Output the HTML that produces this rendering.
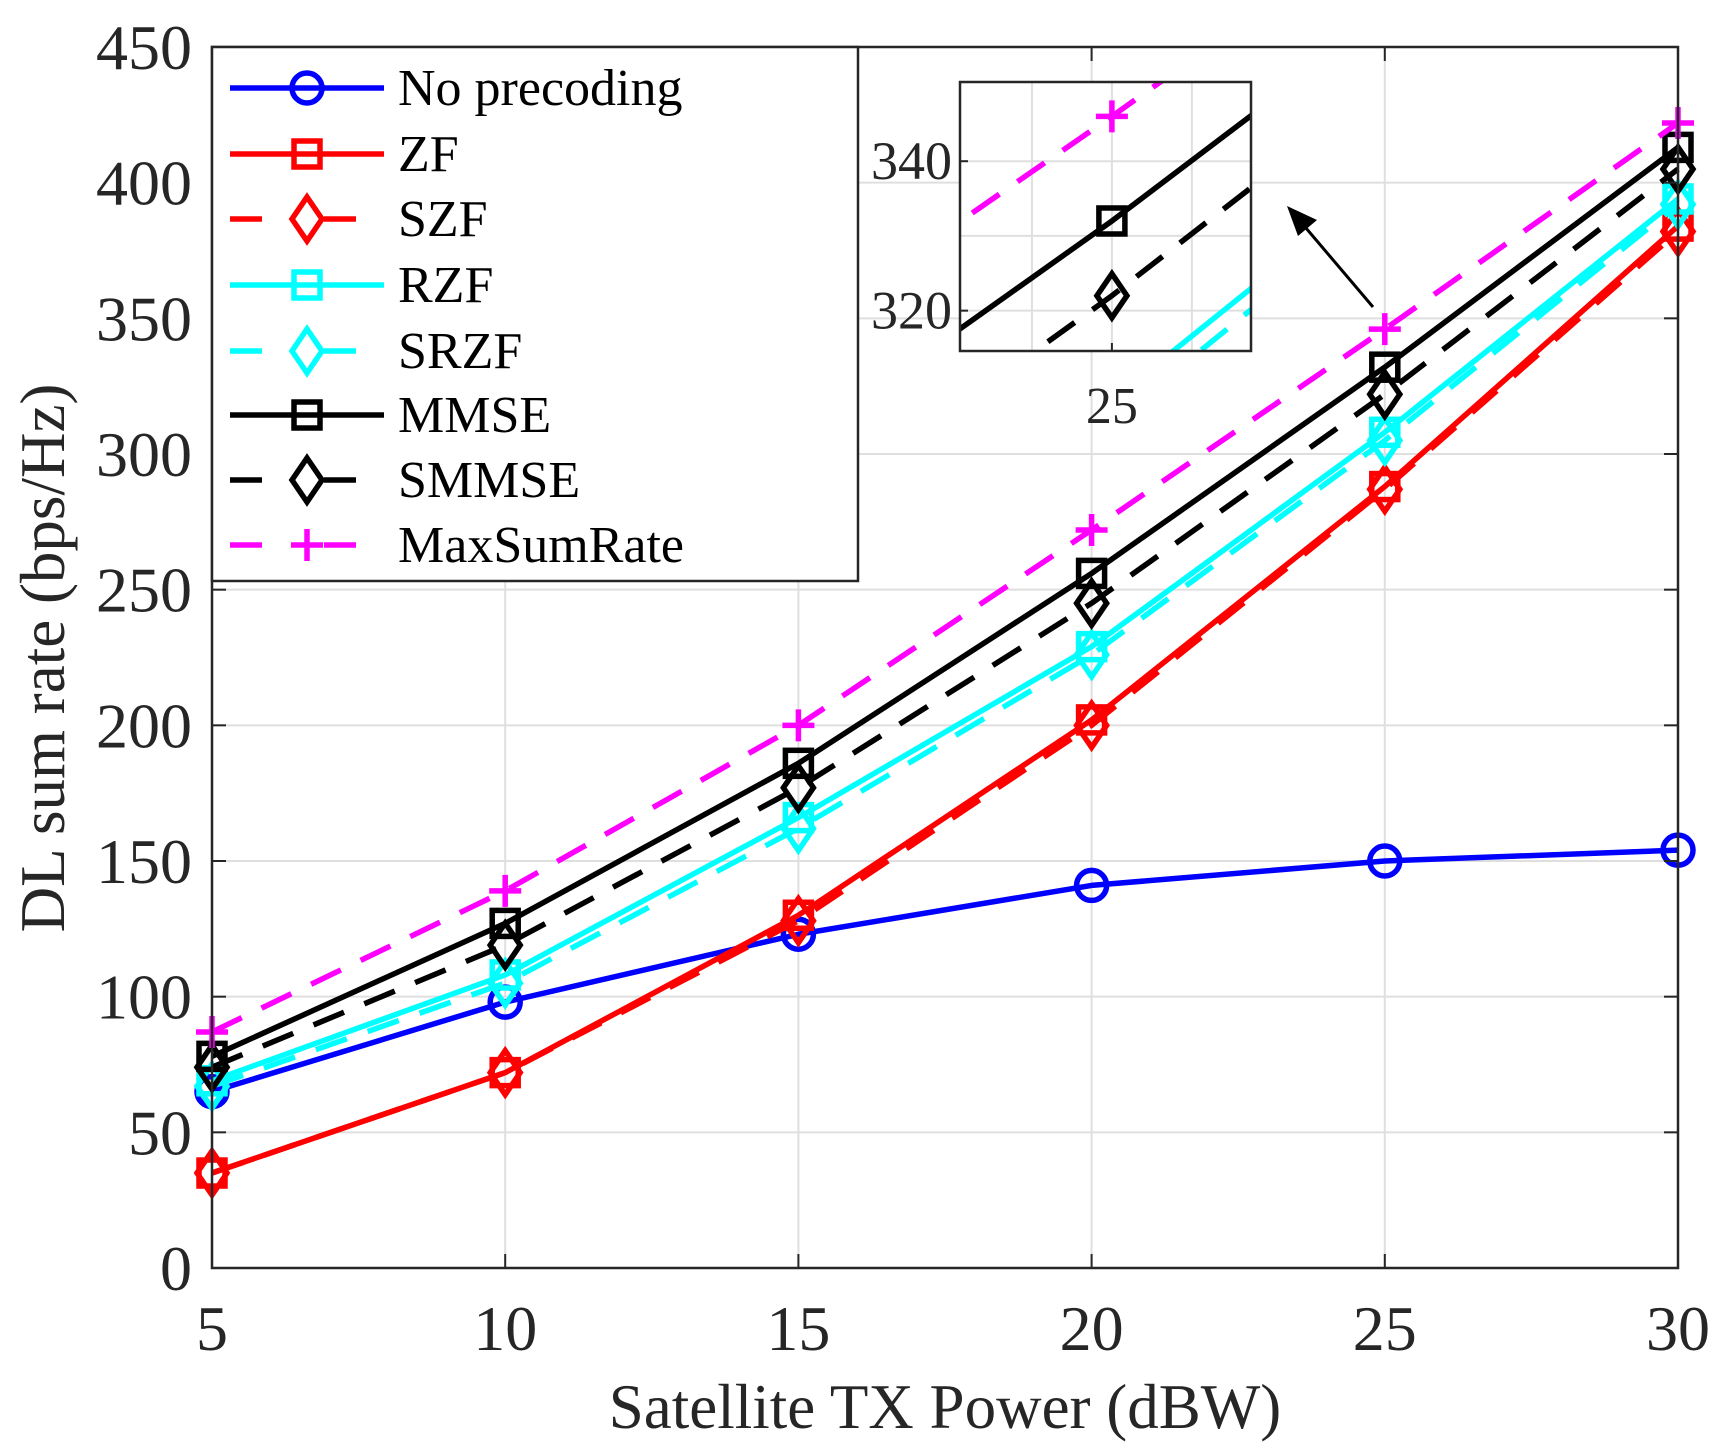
<!DOCTYPE html>
<html><head><meta charset="utf-8"><style>
html,body{margin:0;padding:0;background:#fff;overflow:hidden;width:1720px;height:1455px;}
svg{display:block;font-family:"Liberation Serif",serif;}
</style></head><body>
<svg id="chart" width="1720" height="1455" viewBox="0 0 1720 1455" xmlns="http://www.w3.org/2000/svg"></svg>
<script>
const xValues=[5,10,15,20,25,30];
const xTicks=[5,10,15,20,25,30];
const yTicks=[0,50,100,150,200,250,300,350,400,450];
const seriesNames=["No precoding","ZF","SZF","RZF","SRZF","MMSE","SMMSE","MaxSumRate"];
const noPrecoding=[65,98,123,141,150,154];
const zf=[35,72,130,202,288,384];
const szf=[35,72,128,200,287,382];
const rzf=[69,108,166,229,308,394];
const srzf=[67,105,162,226,305,392];
const mmse=[78,127,186,256,332,413];
const smmse=[74,119,177,245,322,405];
const maxSumRate=[87,139,200,272,346,422];
const insetYTicks=[320,340];
const insetXTicks=[25];

const styles=[
 {d:noPrecoding,c:"#0000ff",m:"o",dash:false},
 {d:zf,c:"#ff0000",m:"s",dash:false},
 {d:szf,c:"#ff0000",m:"d",dash:true},
 {d:rzf,c:"#00ffff",m:"s",dash:false},
 {d:srzf,c:"#00ffff",m:"d",dash:true},
 {d:mmse,c:"#000000",m:"s",dash:false},
 {d:smmse,c:"#000000",m:"d",dash:true},
 {d:maxSumRate,c:"#ff00ff",m:"+",dash:true}
];
const NS="http://www.w3.org/2000/svg";
const svg=document.getElementById("chart");
function el(t,a,p){const e=document.createElementNS(NS,t);for(const k in a)e.setAttribute(k,a[k]);(p||svg).appendChild(e);return e;}
const L=212,R=1678,T=47,B=1268;
const sx=v=>L+(v-5)/25*(R-L);
const sy=v=>B-v/450*(B-T);
const TXT="#262626";
const LW=5.5, DASH="33 22";

for(const t of xTicks){const g=el("line",{x1:sx(t),x2:sx(t),y1:T,y2:B,stroke:"#dfdfdf","stroke-width":2});}
for(const t of yTicks){const g=el("line",{x1:L,x2:R,y1:sy(t),y2:sy(t),stroke:"#dfdfdf","stroke-width":2});}

function marker(type,x,y,c,parent){
 const g=el("g",{},parent);
 const sw=5.5;
 if(type==="o") el("circle",{cx:x,cy:y,r:15,fill:"none",stroke:c,"stroke-width":sw},g);
 else if(type==="s"){const h=13;el("rect",{x:x-h,y:y-h,width:2*h,height:2*h,fill:"none",stroke:c,"stroke-width":sw},g);}
 else if(type==="d"){const w=15,h=22;el("polygon",{points:`${x},${y-h} ${x+w},${y} ${x},${y+h} ${x-w},${y}`,fill:"none",stroke:c,"stroke-width":sw},g);}
 else {const h=16;el("path",{d:`M${x-h},${y}H${x+h}M${x},${y-h}V${y+h}`,stroke:c,"stroke-width":sw},g);}
 return g;
}

styles.forEach((s,i)=>{
 const g=el("g",{});
 
 
 const pts=s.d.map((v,j)=>sx(xValues[j])+","+sy(v)).join(" ");
 const a={points:pts,fill:"none",stroke:s.c,"stroke-width":LW,"stroke-linejoin":"round"};
 if(s.dash)a["stroke-dasharray"]=DASH;
 el("polyline",a,g);
 s.d.forEach((v,j)=>{const m=marker(s.m,sx(xValues[j]),sy(v),s.c,g);});
});

const box=el("rect",{x:L,y:T,width:R-L,height:B-T,fill:"none",stroke:TXT,"stroke-width":2.5});

for(const t of xTicks){
 el("line",{x1:sx(t),x2:sx(t),y1:B,y2:B-14,stroke:TXT,"stroke-width":2});
 el("line",{x1:sx(t),x2:sx(t),y1:T,y2:T+14,stroke:TXT,"stroke-width":2});
 const tx=el("text",{x:sx(t),y:B+82,"font-size":64,"text-anchor":"middle",fill:TXT});tx.textContent=t;
 
}
for(const t of yTicks){
 el("line",{x1:L,x2:L+14,y1:sy(t),y2:sy(t),stroke:TXT,"stroke-width":2});
 el("line",{x1:R,x2:R-14,y1:sy(t),y2:sy(t),stroke:TXT,"stroke-width":2});
 const tx=el("text",{x:L-20,y:sy(t)+22,"font-size":64,"text-anchor":"end",fill:TXT});tx.textContent=t;
 
}
const xl=el("text",{x:945,y:1428,"font-size":63,"text-anchor":"middle",fill:TXT});xl.textContent="Satellite TX Power (dBW)";

const yl=el("text",{x:0,y:0,"font-size":63,"text-anchor":"middle",fill:TXT,transform:"translate(64,658) rotate(-90)"});yl.textContent="DL sum rate (bps/Hz)";


const lg=el("g",{});
el("rect",{x:212,y:47,width:646,height:534,fill:"#fff",stroke:TXT,"stroke-width":2.5},lg);
const rowY=[88,154,219,285,351,415,480,545];
styles.forEach((s,i)=>{
 const g=el("g",{},lg);
 const a={x1:230,x2:384,y1:rowY[i],y2:rowY[i],stroke:s.c,"stroke-width":LW};
 if(s.dash)a["stroke-dasharray"]="32 62";
 el("line",a,g);
 marker(s.m,307,rowY[i],s.c,g);
 const t=el("text",{x:398,y:rowY[i]+17,"font-size":52,fill:"#000"},g);t.textContent=seriesNames[i];
});

const IL=960,IR=1251,IT=82,IB=351,X0=24.05,X1=25.87,Y0=314.6,Y1=350.6;
const ix=v=>IL+(v-X0)/(X1-X0)*(IR-IL);
const iy=v=>IB-(v-Y0)/(Y1-Y0)*(IB-IT);
const ig=el("g",{});
el("rect",{x:IL,y:IT,width:IR-IL,height:IB-IT,fill:"#fff"},ig);
const ic=el("clipPath",{id:"insetclip"});el("rect",{x:IL,y:IT,width:IR-IL,height:IB-IT},ic);
for(const v of [24.5,25,25.5]) el("line",{x1:ix(v),x2:ix(v),y1:IT,y2:IB,stroke:"#dfdfdf","stroke-width":2},ig);
for(const v of [320,330,340]) el("line",{x1:IL,x2:IR,y1:iy(v),y2:iy(v),stroke:"#dfdfdf","stroke-width":2},ig);
const inner=el("g",{"clip-path":"url(#insetclip)"},ig);
styles.forEach((s,i)=>{
 const pts=s.d.map((v,j)=>ix(xValues[j])+","+iy(v)).join(" ");
 const a={points:pts,fill:"none",stroke:s.c,"stroke-width":LW};
 if(s.dash)a["stroke-dasharray"]=DASH;
 el("polyline",a,inner);
 s.d.forEach((v,j)=>marker(s.m,ix(xValues[j]),iy(v),s.c,inner));
});
el("rect",{x:IL,y:IT,width:IR-IL,height:IB-IT,fill:"none",stroke:TXT,"stroke-width":2.5},ig);
for(const t of insetYTicks){
 el("line",{x1:IL,x2:IL+8,y1:iy(t),y2:iy(t),stroke:TXT,"stroke-width":2},ig);
 const tx=el("text",{x:IL-8,y:iy(t)+18,"font-size":54,"text-anchor":"end",fill:TXT},ig);tx.textContent=t;
}
for(const t of insetXTicks){
 el("line",{x1:ix(t),x2:ix(t),y1:IB,y2:IB-8,stroke:TXT,"stroke-width":2},ig);
 const tx=el("text",{x:ix(t),y:IB+72,"font-size":52,"text-anchor":"middle",fill:TXT},ig);tx.textContent=t;
}
const ar=el("g",{});
el("line",{x1:1373,y1:307,x2:1300,y2:221,stroke:"#000","stroke-width":3},ar);
el("polygon",{points:"1287,206 1317,220 1298,236",fill:"#000"},ar);
</script>
</body></html>
